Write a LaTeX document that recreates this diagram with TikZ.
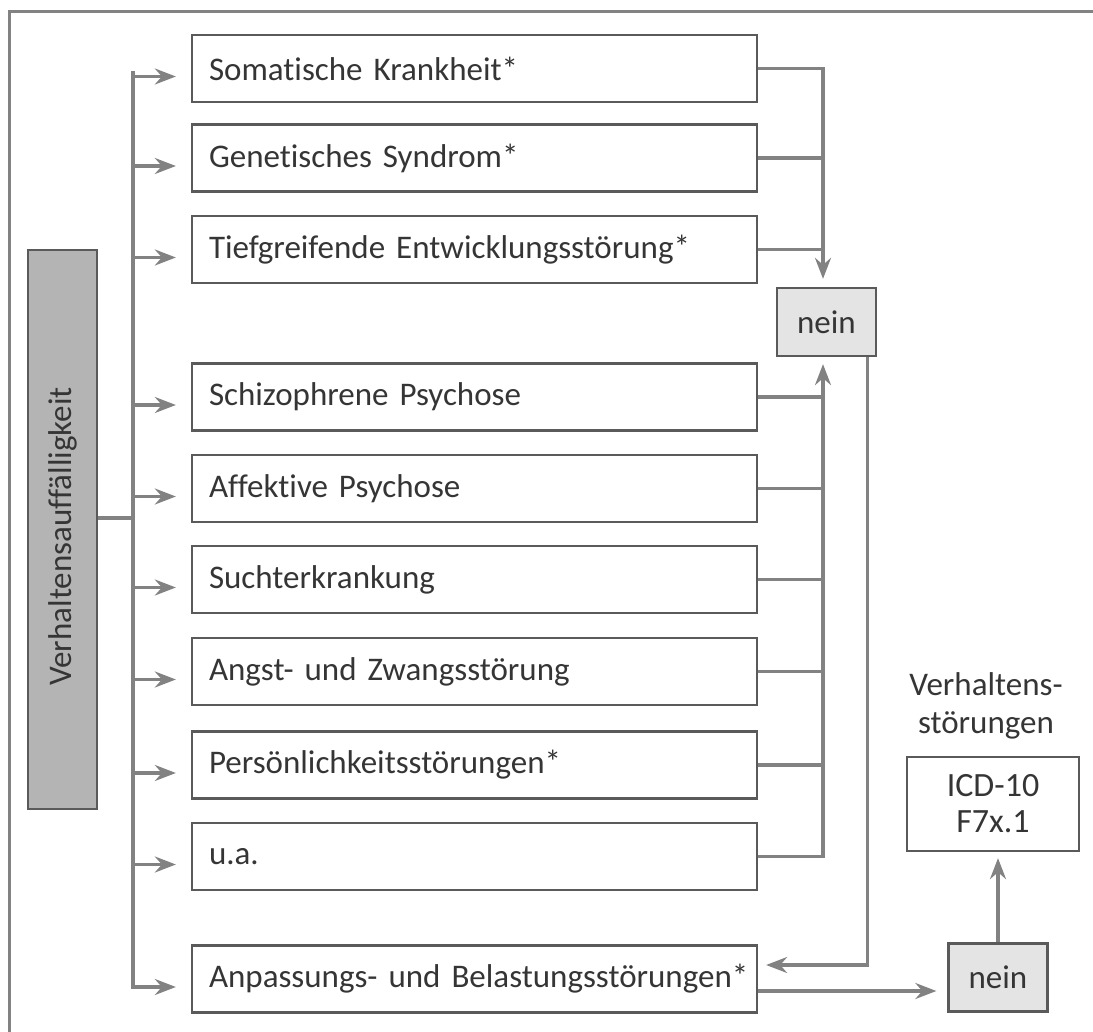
\documentclass[tikz,border=0pt]{standalone}
\usepackage{fontspec}
\setmainfont{Carlito}[Ligatures=NoCommon, WordSpace=0.75]
\usetikzlibrary{arrows.meta,calc}
\definecolor{txt}{HTML}{353535}
\definecolor{bord}{HTML}{5A5A5A}
\definecolor{conn}{HTML}{828282}
\definecolor{dark}{HTML}{B4B4B4}
\definecolor{light}{HTML}{E4E4E4}
\begin{document}
\begin{tikzpicture}[x=1pt,y=-1pt,
  every node/.style={font=\fontsize{33}{37}\selectfont, text=txt},
  diag/.style={draw=bord, line width=2.3pt, minimum height=67pt, inner xsep=17pt,
    text width=531pt, align=left, anchor=center},
  neinbox/.style={draw=bord, line width=2.3pt, fill=light, minimum width=99pt, minimum height=68pt, inner sep=0pt},
  conline/.style={draw=conn, line width=3.2pt},
  arr/.style={conline, -{Stealth[length=21pt,width=16pt,inset=7pt]}},
  frame/.style={draw=conn, line width=3pt}]
\useasboundingbox (0,0) rectangle (1093,1032);
\draw[frame] (9,1032) -- (9,12) -- (1093,12);

% main box
\node[draw=bord, line width=2.3pt, fill=dark, minimum width=69pt, minimum height=559pt, inner sep=0pt] (V) at (62.5,529.5) {};
\node[rotate=90] (Vt) at ([yshift=-7pt]V.center) {Verhaltensauffälligkeit};

% diagnosis boxes
\node[diag] (som) at (474.5,68.5) {\mbox{Somatische Krankheit*}};
\node[diag] (gen) at (474.5,158) {\mbox{Genetisches Syndrom*}};
\node[diag] (tief) at (474.5,249.5) {\mbox{Tiefgreifende Entwicklungsstörung*}};
\node[diag] (schizo) at (474.5,397) {\mbox{Schizophrene Psychose}};
\node[diag] (aff) at (474.5,488.5) {\mbox{Affektive Psychose}};
\node[diag] (sucht) at (474.5,579.5) {\mbox{Suchterkrankung}};
\node[diag] (angst) at (474.5,671.5) {\mbox{Angst- und Zwangsstörung}};
\node[diag] (pers) at (474.5,765) {\mbox{Persönlichkeitsstörungen*}};
\node[diag] (ua) at (474.5,856.5) {\mbox{u.a.}};
\node[diag] (anp) at (474.5,979) {\mbox{Anpassungs- und Belastungsstörungen*}};

% nein boxes and result
\node[neinbox] (nein1) at (826.5,322) {nein};
\node[neinbox] (nein2) at (998,977.5) {nein};
\node[draw=bord, line width=2.3pt, minimum width=172pt, minimum height=94pt, align=center, font=\fontsize{34}{36}\selectfont] (icd) at (993,804) {ICD-10\\F7x.1};
\node[align=center, font=\fontsize{33}{38}\selectfont] (lab) at (986,706) {Verhaltens-\\störungen};

% trunk
\coordinate (trunkT) at (133,71);
\coordinate (trunkB) at (133,989);
\coordinate (bus) at (823,67);
\coordinate (vout) at (V.east |- 0,518);
\draw[conline] (vout) -- (vout -| trunkT);
\draw[conline] (trunkT) -- (trunkB);

\foreach \n in {som,gen,tief,schizo,aff,sucht,angst,pers,ua,anp}{
  \coordinate (\n in) at ([shift={(-15pt,-8pt)}]\n.west);
  \draw[arr] (\n in -| trunkT) -- (\n in);
}

% upper bus to nein1
\coordinate (n1top) at ([yshift=8pt]nein1.north);
\draw[arr] (som.east) -- (som.east -| bus) -- (n1top -| bus);
\draw[conline] (gen.east) -- (gen.east -| bus);
\draw[conline] (tief.east) -- (tief.east -| bus);

% lower bus to nein1
\coordinate (n1bot) at ([yshift=-7pt]nein1.south);
\draw[arr] (ua.east) -- (ua.east -| bus) -- (n1bot -| bus);
\foreach \n in {schizo,aff,sucht,angst,pers}{
  \draw[conline] (\n.east) -- (\n.east -| bus);
}

% nein1 to Anpassung
\coordinate (n1out) at ([xshift=-10pt]nein1.south east);
\coordinate (anpin) at ([shift={(8pt,14pt)}]anp.east);
\draw[arr] (n1out) -- (n1out |- anpin) -- (anpin);

% Anpassung to nein2
\coordinate (anpout) at ([yshift=-12pt]anp.east);
\coordinate (n2in) at ([xshift=-11pt]nein2.west);
\draw[arr] (anpout) -- (anpout -| n2in);

% nein2 to ICD
\coordinate (icdin) at ([yshift=-6pt]icd.south);
\draw[arr] (nein2.north) -- (nein2.north |- icdin);
\end{tikzpicture}
\end{document}
